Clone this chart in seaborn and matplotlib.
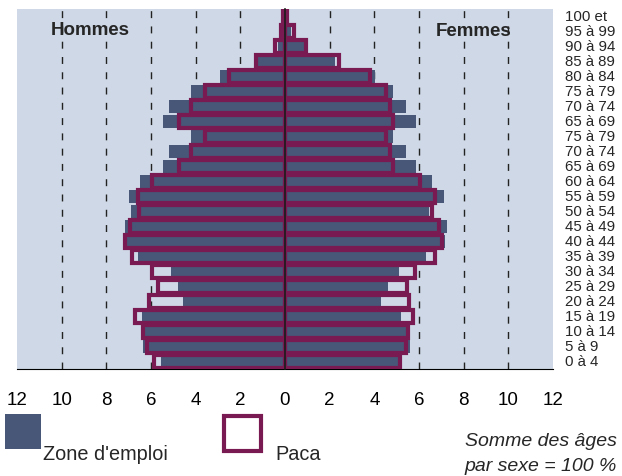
import matplotlib
matplotlib.use("Agg")
import matplotlib.pyplot as plt
import seaborn as sns
from matplotlib.patches import Rectangle
from matplotlib.transforms import blended_transform_factory

# age groups, top to bottom (labels as printed on the source chart)
age_labels = ["100 et", "95 à 99", "90 à 94", "85 à 89", "80 à 84", "75 à 79",
              "70 à 74", "65 à 69", "75 à 79", "70 à 74", "65 à 69", "60 à 64",
              "55 à 59", "50 à 54", "45 à 49", "40 à 44", "35 à 39", "30 à 34",
              "25 à 29", "20 à 24", "15 à 19", "10 à 14", "5 à 9", "0 à 4"]

# shares in % (sum of ages per sex = 100 %)
hommes_zone = [0.03, 0.1, 0.3, 1.2, 2.9, 4.2, 5.2, 5.45, 4.2, 5.2, 5.45, 6.5,
               7.0, 6.9, 7.15, 7.1, 6.6, 5.1, 4.8, 4.55, 6.4, 6.3, 6.35, 5.55]
hommes_paca = [0.1, 0.17, 0.45, 1.3, 2.5, 3.6, 4.2, 4.75, 3.6, 4.2, 4.75, 5.95,
               6.6, 6.55, 6.95, 7.15, 6.85, 5.95, 5.7, 6.1, 6.7, 6.35, 6.2, 5.85]
femmes_zone = [0.03, 0.25, 1.05, 2.25, 4.05, 4.85, 5.4, 5.85, 4.85, 5.4, 5.85, 6.6,
               7.1, 6.45, 7.25, 7.15, 6.3, 5.1, 4.6, 4.3, 5.2, 5.45, 5.6, 5.05]
femmes_paca = [0.1, 0.4, 0.92, 2.4, 3.8, 4.5, 4.7, 4.85, 4.5, 4.7, 4.85, 6.05,
               6.7, 6.6, 6.9, 7.05, 6.7, 5.8, 5.45, 5.55, 5.75, 5.5, 5.4, 5.15]

xticks = list(range(-12, 13, 2))

zone_color = "#485678"
paca_color = "#7A1A52"
bg_color = "#CED8E6"

sns.set_style("white")
plt.rcParams["font.family"] = ["Liberation Sans", "DejaVu Sans"]

W, H = 622, 477
fig = plt.figure(figsize=(W / 100, H / 100), dpi=100)
ax = fig.add_axes([17 / W, (H - 370) / H, 536 / W, 360 / H])
ax.set_facecolor(bg_color)

rows = list(range(len(age_labels)))

# zone d'emploi : filled bars
sns.barplot(x=[-v for v in hommes_zone], y=rows, orient="h", color=zone_color,
            width=0.93, linewidth=0, saturation=1, ax=ax, zorder=2)
sns.barplot(x=femmes_zone, y=rows, orient="h", color=zone_color,
            width=0.93, linewidth=0, saturation=1, ax=ax, zorder=2)
# Paca : outlined bars
sns.barplot(x=[-v for v in hommes_paca], y=rows, orient="h", color=paca_color,
            fill=False, width=0.84, linewidth=3, saturation=1, ax=ax, zorder=3)
sns.barplot(x=femmes_paca, y=rows, orient="h", color=paca_color,
            fill=False, width=0.84, linewidth=3, saturation=1, ax=ax, zorder=3)

n = len(age_labels)
ax.set_xlim(-12, 12)
ax.set_ylim(n - 0.5, -0.5)

# dashed guides
for x in xticks:
    if x in (-12, 0, 12):
        continue
    ax.axvline(x, color="#222222", linestyle=(0, (5, 6)), linewidth=1, zorder=1)

ax.set_xlabel("")
ax.set_ylabel("")
ax.set_xticks(xticks)
ax.set_xticklabels([str(abs(t)) for t in xticks], fontsize=13.5)
ax.tick_params(axis="x", direction="out", length=6, width=1, pad=10, colors="black")

# central axis with small ticks at row limits
ax.spines["left"].set_position(("data", 0))
ax.spines["left"].set_color("#1a1a1a")
ax.spines["left"].set_linewidth(1.2)
ax.spines["left"].set_zorder(4)
ax.set_yticks([i - 0.5 for i in range(n + 1)])
ax.set_yticklabels([])
ax.tick_params(axis="y", direction="out", length=4, width=1, colors="black")
ax.spines["top"].set_visible(False)
ax.spines["right"].set_visible(False)
ax.spines["bottom"].set_color("black")

# age labels on the right
trans = blended_transform_factory(fig.transFigure, ax.transData)
for i, lab in enumerate(age_labels):
    fig.text(565 / W, i, lab, transform=trans, fontsize=10.8, va="center", ha="left")

ax.text(-8.73, 0.9, "Hommes", fontsize=13.5, fontweight="bold", ha="center", va="center", zorder=5)
ax.text(8.44, 0.95, "Femmes", fontsize=13.5, fontweight="bold", ha="center", va="center", zorder=5)

# legend
fig.add_artist(Rectangle((5 / W, (H - 450) / H), 36 / W, 35 / H,
                         transform=fig.transFigure, facecolor=zone_color, edgecolor="none"))
fig.add_artist(Rectangle((224 / W, (H - 452) / H), 37 / W, 35 / H,
                         transform=fig.transFigure, facecolor="white",
                         edgecolor=paca_color, linewidth=3))
fig.text(43 / W, (H - 460) / H, "Zone d'emploi", fontsize=14.3, va="baseline", ha="left")
fig.text(275 / W, (H - 460) / H, "Paca", fontsize=14.3, va="baseline", ha="left")
fig.text(617 / W, (H - 446) / H, "Somme des âges", fontsize=14, style="italic",
         va="baseline", ha="right")
fig.text(617 / W, (H - 471) / H, "par sexe = 100 %", fontsize=14, style="italic",
         va="baseline", ha="right")

fig.savefig("out.png", dpi=100, facecolor="white")
